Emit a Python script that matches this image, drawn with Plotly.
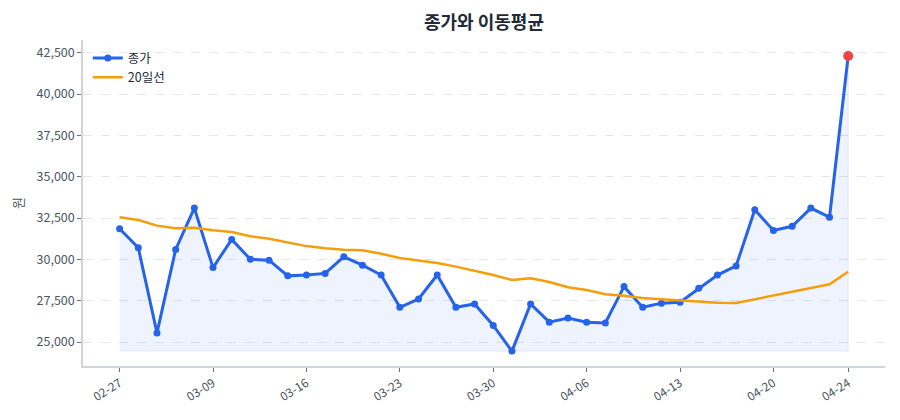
import plotly.graph_objects as go

dates = [
    "02-27", "03-03", "03-04", "03-05", "03-06",
    "03-09", "03-10", "03-11", "03-12", "03-13",
    "03-16", "03-17", "03-18", "03-19", "03-20",
    "03-23", "03-24", "03-25", "03-26", "03-27",
    "03-30", "03-31", "04-01", "04-02", "04-03",
    "04-06", "04-07", "04-08", "04-09", "04-10",
    "04-13", "04-14", "04-15", "04-16", "04-17",
    "04-20", "04-21", "04-22", "04-23", "04-24",
]
close = [
    31850, 30700, 25550, 30600, 33100,
    29500, 31200, 30000, 29950, 29000,
    29050, 29150, 30150, 29650, 29050,
    27100, 27600, 29050, 27100, 27300,
    26000, 24450, 27300, 26200, 26450,
    26200, 26150, 28350, 27100, 27350,
    27400, 28250, 29050, 29600, 33000,
    31750, 32000, 33100, 32550, 42300,
]
ma20 = [
    32540, 32380, 32040, 31880, 31915,
    31760, 31655, 31394, 31250, 31030,
    30800, 30670, 30580, 30550, 30340,
    30080, 29920, 29780, 29560, 29320,
    29050, 28750, 28850, 28630, 28310,
    28150, 27890, 27800, 27660, 27580,
    27500, 27440, 27380, 27360, 27580,
    27830, 28040, 28250, 28490, 29250,
]
tick_labels = ["02-27", "03-09", "03-16", "03-23", "03-30", "04-06", "04-13", "04-20", "04-24"]

BLUE = "#2563eb"
ORANGE = "#f59e0b"
RED = "#ef4444"
FONT = "Noto Sans CJK KR"

base = min(close)
fig = go.Figure()
fig.add_trace(go.Scatter(
    x=dates + dates[::-1], y=close + [base] * len(dates),
    fill="toself", fillcolor="rgba(37,99,235,0.08)",
    line=dict(color="rgba(37,99,235,0.10)", width=1),
    mode="lines", showlegend=False, hoverinfo="skip",
))
fig.add_trace(go.Scatter(
    x=dates, y=close, name="종가", mode="lines+markers",
    line=dict(color=BLUE, width=3), marker=dict(color=BLUE, size=7),
))
fig.add_trace(go.Scatter(
    x=dates, y=ma20, name="20일선", mode="lines",
    line=dict(color=ORANGE, width=2.5),
))
fig.add_trace(go.Scatter(
    x=[dates[-1]], y=[close[-1]], mode="markers", showlegend=False,
    marker=dict(color=RED, size=10),
))

fig.update_layout(
    width=900, height=420,
    margin=dict(l=83, r=15, t=40, b=54),
    paper_bgcolor="white", plot_bgcolor="white",
    font=dict(family=FONT, size=12, color="#4b5563"),
    title=dict(text="<b>종가와 이동평균</b>", x=0.5, xref="paper", xanchor="center",
               y=0.947, yref="container", yanchor="middle",
               font=dict(family=FONT, size=18, color="#1f2937")),
    legend=dict(x=0.006, y=0.99, xanchor="left", yanchor="top",
                bgcolor="rgba(255,255,255,0)", font=dict(family=FONT, size=12.5, color="#1f2937"),
                itemwidth=30, tracegroupgap=2),
    showlegend=True,
)
fig.update_xaxes(
    type="category", categoryorder="array", categoryarray=dates,
    range=[-1.96, 40.97],
    tickmode="array", tickvals=tick_labels, ticktext=tick_labels,
    tickangle=-32, ticks="outside", ticklen=4, tickcolor="#6b7280",
    showline=True, linecolor="#d1d5db", linewidth=1.5,
    showgrid=False, zeroline=False,
    tickfont=dict(size=12, color="#4b5563"),
)
fig.update_yaxes(
    range=[23548, 43268],
    tickmode="array", tickvals=[25000, 27500, 30000, 32500, 35000, 37500, 40000, 42500],
    tickformat=",", ticks="outside", ticklen=4, tickcolor="#6b7280",
    showline=True, linecolor="#d1d5db", linewidth=1.5,
    showgrid=True, gridcolor="#e5e7eb", griddash="dash", gridwidth=1,
    zeroline=False,
    title=dict(text="원", standoff=10, font=dict(size=13, color="#4b5563")),
    tickfont=dict(size=12.5, color="#4b5563"),
)

fig.write_html("out.html")
